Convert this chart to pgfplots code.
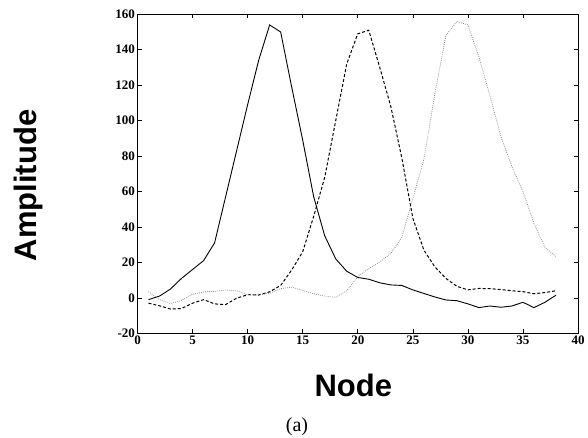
\documentclass[border=0pt]{standalone}
\usepackage{pgfplots}
\pgfplotsset{compat=1.18}
\usepackage{fontspec}
\setmainfont{Liberation Serif}
\newfontfamily\arialf{Liberation Sans}
\begin{document}
\begin{tikzpicture}[x=1pt,y=1pt]
\path[use as bounding box] (0,0) rectangle (588,438);
\begin{axis}[
  at={(137.5pt,104.7pt)}, anchor=south west,
  scale only axis, width=440.5pt, height=319pt,
  xmin=0, xmax=40, ymin=-20, ymax=160,
  xtick={0,5,...,40}, ytick={-20,0,...,160},
  tick align=inside, major tick length=4pt,
  tick style={black, line width=0.6pt},
  axis line style={black, line width=0.9pt},
  /pgf/number format/assume math mode=true,
  ticklabel style={font=\fontsize{13}{15}\selectfont\bfseries},
  xticklabel style={yshift=1pt},
  yticklabel style={xshift=1pt},
  clip=false,
]
\addplot[black, line width=0.9pt] coordinates {
(1,-1)(2,1)(3,5)(4,11)(5,16)(6,21)(7,31)(8,57)(9,83)(10,109)(11,134)(12,154)(13,150)(14,119)(15,89)(16,57)(17,35)(18,22)(19,15)(20,11.5)(21,10.5)(22,8.5)(23,7.3)(24,7)(25,4.5)(26,2.5)(27,0.5)(28,-1.2)(29,-1.6)(30,-3.4)(31,-5.5)(32,-4.6)(33,-5.3)(34,-4.6)(35,-2.5)(36,-5.5)(37,-2.5)(38,1.5)
};
\addplot[black, line width=1pt, dash pattern=on 3pt off 2pt] coordinates {
(1,-3)(2,-4.5)(3,-6.3)(4,-6)(5,-3)(6,-1)(7,-3.4)(8,-3.8)(9,-0.2)(10,1.8)(11,1.6)(12,3.4)(13,7)(14,15.7)(15,26)(16,46)(17,68)(18,100)(19,132)(20,149)(21,151)(22,130)(23,108)(24,79)(25,45)(26,27)(27,17.5)(28,11)(29,6.5)(30,4.5)(31,5.3)(32,5.2)(33,4.7)(34,4)(35,3.5)(36,2.3)(37,3)(38,4)
};
\addplot[black!45, line width=0.8pt, dash pattern=on 0.8pt off 1.2pt] coordinates {
(1,3.5)(2,-1)(3,-3.2)(4,-1.5)(5,2)(6,3.3)(7,3.7)(8,4.4)(9,4)(10,1.8)(11,1.6)(12,2.6)(13,5.2)(14,6)(15,4.2)(16,2.3)(17,1)(18,0.3)(19,4)(20,12)(21,16.5)(22,20.3)(23,25)(24,34)(25,56)(26,78)(27,115)(28,148)(29,156)(30,154)(31,136)(32,114)(33,91)(34,74)(35,60)(36,42)(37,28.5)(38,23.3)
};
\end{axis}
\node[anchor=base, rotate=90, inner sep=0pt] at (36.7,252.5) {\arialf\bfseries\fontsize{31}{36}\selectfont Amplitude};
\node[anchor=base, inner sep=0pt] at (353.3,41) {\arialf\bfseries\fontsize{31}{36}\selectfont Node};
\node[anchor=base, inner sep=0pt] at (297,6) {\fontsize{20}{24}\selectfont (a)};
\end{tikzpicture}
\end{document}
